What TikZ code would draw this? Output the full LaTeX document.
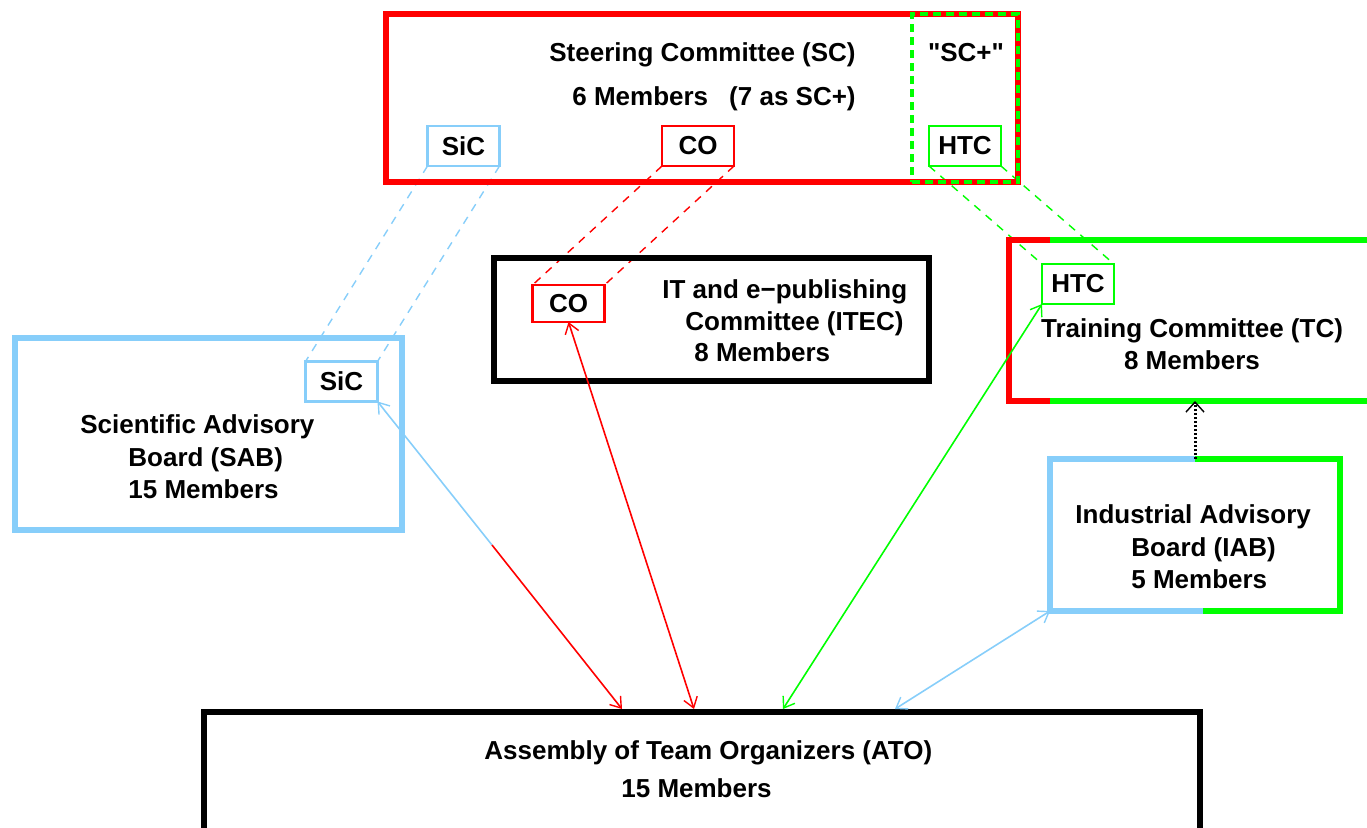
\documentclass[tikz,border=0pt]{standalone}
\usepackage{fontspec}
\setmainfont{Liberation Sans}
\newfontfamily\quotefont{Liberation Sans}
\usetikzlibrary{arrows.meta,fit,backgrounds}
\definecolor{skyb}{RGB}{135,206,250}
\definecolor{lime}{RGB}{0,255,0}
\begin{document}
\begin{tikzpicture}[x=.5pt, y=-.5pt, >={Straight Barb[length=5pt,width=7pt,line width=.7pt]},
    frame/.style={line width=3pt, inner sep=0, outer sep=0},
    smallbox/.style={draw, line width=1.25pt, minimum width=36pt, minimum height=20pt, inner sep=0, outer sep=0, font=\fontsize{13}{15}\selectfont\bfseries},
    txt/.style={font=\fontsize{13}{#1}\selectfont\bfseries, inner sep=0, align=left},
    txt/.default=16,
    tie/.style={line width=.7pt, dash pattern=on 4pt off 3.5pt},
    link/.style={line width=.8pt}]
\useasboundingbox (0,0) rectangle (1367,827);
\clip (0,0) rectangle (1367,827);
% boxes
\node[frame, draw=red, fit={(386,14)(1018,182)}] (sc) {};
\node[frame, draw=lime, line width=2.2pt, dash pattern=on 4pt off 2.5pt, fit={(912,14)(1018,182)}] (scplus) {};
\node[frame, draw, fit={(494,258)(929,381)}] (itec) {};
\node[frame, fit={(1009,240)(1380,401)}] (tc) {};
\node[frame, fit={(1050,459)(1340,611)}] (iab) {};
\node[frame, draw=skyb, fit={(15,338)(402,530)}] (sab) {};
\node[frame, draw, fit={(204,712)(1200,860)}] (ato) {};
% two coloured frames
\draw[frame, red]([xshift=20.5pt]tc.north west)--(tc.north west)--(tc.south west)--([xshift=20.5pt]tc.south west);
\draw[frame, lime]([xshift=20.5pt]tc.north west)--(tc.north east);
\draw[frame, lime]([xshift=20.5pt]tc.south west)--(tc.south east);
\coordinate (iabtop) at ([xshift=72.5pt]iab.north west);
\coordinate (iabbot) at ([xshift=76.5pt]iab.south west);
\draw[frame, skyb](iabtop)--(iab.north west)--(iab.south west)--(iabbot);
\draw[frame, lime](iabtop)--(iab.north east)--(iab.south east)--(iabbot);
% texts
\node[txt=22, anchor=west] (sctext) at (549,77) {Steering Committee (SC)\\\hspace*{11.5pt}6 Members\hspace{10.5pt}(7 as SC+)};
\node[txt] (scplustext) at (966,53) {\quotefont\bfseries "SC+"};
\node[txt=15.75, anchor=west] (itectext) at (662,321) {IT and e−publishing\\\hspace*{11.5pt}Committee (ITEC)\\\hspace*{16pt}8 Members};
\node[txt, align=center] (tctext) at (1192,344) {Training Committee (TC)\\8 Members};
\node[txt=16.25, anchor=west] (iabtext) at (1075,547) {Industrial Advisory\\\hspace*{28pt}Board (IAB)\\\hspace*{28pt}5 Members};
\node[txt=16.25, anchor=west] (sabtext) at (80,457) {Scientific Advisory\\\hspace*{24pt}Board (SAB)\\\hspace*{24pt}15 Members};
\node[txt=19, anchor=west] (atotext) at (484,769) {Assembly of Team Organizers (ATO)\\\hspace*{68.5pt}15 Members};
% small boxes
\node[smallbox, draw=skyb] (sicsc) at (463.5,146) {SiC};
\node[smallbox, draw=red] (cosc) at (698,146) {CO};
\node[smallbox, draw=lime] (htcsc) at (965,146) {HTC};
\node[smallbox, draw=red, minimum height=18.5pt] (coitec) at (568.5,303.5) {CO};
\node[smallbox, draw=lime] (htctc) at (1078,284) {HTC};
\node[smallbox, draw=skyb] (sicsab) at (341.5,381.5) {SiC};
% dashed ties
\begin{scope}[on background layer]
\foreach \a/\b/\c in {sicsc/sicsab/skyb, cosc/coitec/red, htcsc/htctc/lime}
{
    \draw[tie, \c](\a.south west)--(\b.north west);
    \draw[tie, \c](\a.south east)--(\b.north east);
}
\end{scope}
% arrows to the assembly
\coordinate (ato1) at (622,709);
\coordinate (ato2) at (694,709);
\coordinate (ato3) at (783,709);
\coordinate (ato4) at (895,709);
\coordinate (mid) at (492,545);
\draw[link, skyb, ->](mid)--(sicsab.south east);
\draw[link, red, ->](mid)--(ato1);
\draw[link, red, <->](coitec.south)--(ato2);
\draw[link, lime, <->](htctc.south west)--(ato3);
\draw[link, skyb, <->](iab.south west)--(ato4);
\draw[line width=1.5pt, dash pattern=on 1pt off 1pt, -{Straight Barb[length=5pt,width=9pt,line width=.7pt]}](iabtop)--(iabtop |- tc.south);
\end{tikzpicture}
\end{document}
